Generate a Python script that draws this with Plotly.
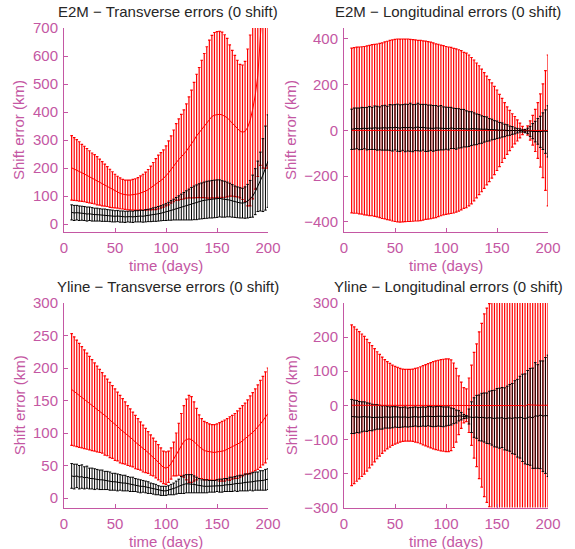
import plotly.graph_objects as go

# ---------------- data ----------------
DAYS = [7.5, 10, 12.5, 15, 17.5, 20, 22.5, 25, 27.5, 30,
        32.5, 35, 37.5, 40, 42.5, 45, 47.5, 50, 52.5, 55,
        57.5, 60, 62.5, 65, 67.5, 70, 72.5, 75, 77.5, 80,
        82.5, 85, 87.5, 90, 92.5, 95, 97.5, 100, 102.5, 105,
        107.5, 110, 112.5, 115, 117.5, 120, 122.5, 125, 127.5, 130,
        132.5, 135, 137.5, 140, 142.5, 145, 147.5, 150, 152.5, 155,
        157.5, 160, 162.5, 165, 167.5, 170, 172.5, 175, 177.5, 180,
        182.5, 185, 187.5, 190, 192.5, 195, 197.5, 200]

# E2M - Transverse
E2M_T_RED_MEAN = [201, 197, 193, 188, 183, 179, 174, 169, 164, 160,
                  155, 150, 144, 139, 134, 128, 123, 118, 114, 110,
                  107, 105, 104, 104, 105, 106, 108, 111, 114, 118,
                  123, 129, 136, 143, 150, 156, 163, 172, 183, 195,
                  208, 222, 231, 240, 249, 261, 274, 286, 300, 315,
                  327, 340, 352, 363, 375, 384, 389, 391, 392, 390,
                  386, 380, 370, 360, 350, 341, 332, 328, 331, 345,
                  370, 410, 460, 530, 630, 750, 900, 1080]
E2M_T_RED_STD = [115, 112, 109, 106, 102, 99, 96, 93, 90, 88,
                 86, 82, 79, 75, 71, 68, 64, 60, 57, 55,
                 53, 52, 53, 53, 55, 56, 58, 61, 64, 68,
                 72, 78, 84, 91, 96, 99, 102, 107, 114, 120,
                 128, 137, 145, 152, 159, 168, 180, 192, 206, 220,
                 232, 245, 257, 270, 282, 290, 295, 296, 296, 295,
                 290, 283, 270, 260, 252, 244, 238, 240, 250, 280,
                 305, 320, 335, 360, 420, 550, 700, 880]
E2M_T_BLK_MEAN = [42, 40, 41, 39, 39, 38, 36, 37, 35, 34,
                  34, 33, 32, 32, 31, 30, 29, 28, 29, 27,
                  27, 26, 27, 27, 26, 28, 28, 29, 28, 30,
                  31, 32, 34, 35, 37, 39, 41, 43, 46, 49,
                  52, 55, 58, 61, 64, 67, 70, 73, 76, 78,
                  81, 83, 85, 87, 88, 89, 90, 91, 92, 90,
                  89, 88, 86, 83, 80, 78, 76, 75, 77, 82,
                  90, 100, 116, 135, 152, 175, 200, 225]
E2M_T_BLK_STD = [27, 27, 26, 26, 25, 25, 25, 24, 24, 23,
                 23, 22, 22, 22, 21, 21, 21, 20, 20, 20,
                 20, 20, 19, 20, 20, 20, 20, 21, 21, 22,
                 22, 23, 24, 25, 26, 27, 28, 30, 32, 35,
                 37, 40, 43, 46, 49, 52, 55, 58, 60, 62,
                 63, 64, 65, 66, 66, 67, 67, 67, 66, 65,
                 64, 62, 60, 58, 56, 55, 54, 53, 56, 60,
                 66, 75, 82, 90, 105, 130, 150, 165]

# E2M - Longitudinal
E2M_L_RED_MEAN = [0, 0, 1, 0, 0, -1, 0, 0, 1, 0,
                  0, 0, -1, 0, 0, 1, 0, 0, 0, -1,
                  0, 0, 1, 0, 0, 0, -1, 0, 0, 1,
                  0, 0, 0, -1, 0, 0, 1, 0, 0, 0,
                  -1, 0, 0, 1, 0, 0, 0, -1, 0, 0,
                  1, 0, 0, 0, -1, 0, 0, 1, 0, 0,
                  0, -1, 0, 0, 1, 0, 0, 0, -1, 0,
                  0, 1, 0, 0, 0, -1, 0, 0]
E2M_L_RED_STD = [360, 362, 363, 365, 366, 368, 370, 372, 374, 376,
                 378, 381, 384, 387, 390, 393, 396, 398, 400, 400,
                 400, 399, 399, 398, 397, 396, 395, 394, 392, 390,
                 388, 386, 383, 380, 377, 373, 370, 367, 365, 363,
                 360, 357, 353, 348, 341, 338, 330, 320, 308, 295,
                 282, 268, 253, 238, 223, 208, 193, 176, 158, 140,
                 122, 104, 88, 73, 60, 46, 32, 18, 6, 20,
                 42, 65, 92, 122, 160, 205, 262, 330]
E2M_L_BLK_MEAN = [5, 8, 9, 7, 9, 10, 8, 11, 9, 12,
                  10, 9, 11, 12, 10, 13, 11, 14, 12, 10,
                  13, 11, 12, 14, 10, 13, 15, 12, 14, 11,
                  10, 12, 9, 11, 10, 12, 9, 10, 8, 11,
                  9, 7, 9, 8, 10, 7, 6, 8, 7, 5,
                  6, 4, 5, 6, 3, 4, 2, 3, 1, 2,
                  0, 1, -1, 0, -2, -1, 0, -2, -3, -2,
                  -4, -3, -5, -4, -6, -3, -5, -4]
E2M_L_BLK_STD = [88, 90, 89, 91, 92, 90, 93, 94, 92, 95,
                 96, 94, 97, 98, 96, 100, 101, 99, 103, 102,
                 100, 104, 102, 105, 103, 101, 104, 102, 100, 103,
                 101, 99, 100, 98, 96, 97, 94, 92, 93, 90,
                 88, 89, 86, 84, 82, 79, 76, 74, 70, 67,
                 64, 60, 56, 53, 49, 45, 41, 38, 34, 31,
                 27, 24, 20, 17, 13, 10, 7, 5, 7, 12,
                 22, 33, 45, 56, 68, 80, 95, 112]

# Yline - Transverse
YL_T_RED_MEAN = [167, 164, 161, 158, 155, 152, 149, 146, 143, 140,
                 137, 134, 131, 127, 124, 120, 117, 113, 110, 106,
                 103, 100, 96, 93, 90, 86, 83, 80, 76, 73,
                 70, 66, 63, 59, 55, 51, 47, 46, 48, 53,
                 60, 67, 75, 82, 87, 90, 91, 90, 87, 83,
                 79, 76, 73, 72, 71, 70, 70, 71, 71, 72,
                 73, 75, 76, 78, 80, 82, 85, 88, 91, 94,
                 97, 101, 105, 109, 114, 119, 124, 130]
YL_T_RED_STD = [86, 84, 82, 80, 78, 76, 74, 72, 70, 68,
                66, 64, 62, 61, 59, 58, 56, 55, 53, 52,
                50, 48, 46, 44, 42, 41, 39, 37, 36, 34,
                32, 31, 29, 28, 27, 26, 25, 25, 24, 24,
                26, 33, 40, 48, 55, 62, 67, 66, 61, 55,
                49, 46, 45, 44, 43, 43, 43, 43, 45, 46,
                47, 47, 49, 49, 50, 52, 53, 54, 55, 57,
                60, 61, 63, 65, 67, 68, 70, 70]
YL_T_BLK_MEAN = [34, 33, 34, 32, 33, 31, 32, 30, 30, 29,
                 29, 28, 28, 27, 27, 26, 25, 25, 24, 24,
                 23, 23, 22, 21, 21, 20, 19, 18, 18, 17,
                 16, 15, 14, 13, 12, 11, 11, 11, 12, 13,
                 14, 16, 18, 20, 21, 22, 22, 22, 21, 20,
                 19, 18, 18, 18, 18, 18, 18, 19, 19, 19,
                 20, 20, 21, 21, 22, 22, 23, 23, 24, 24,
                 25, 25, 26, 26, 27, 27, 28, 29]
YL_T_BLK_STD = [19, 19, 18, 18, 18, 17, 17, 16, 16, 16,
                15, 15, 15, 14, 14, 14, 13, 13, 13, 12,
                12, 12, 11, 11, 11, 10, 10, 10, 9, 9,
                9, 8, 8, 8, 7, 7, 7, 7, 7, 8,
                9, 10, 11, 13, 14, 14, 14, 14, 13, 12,
                11, 10, 10, 10, 9, 9, 9, 9, 10, 10,
                10, 10, 11, 11, 11, 12, 12, 12, 13, 13,
                13, 14, 14, 14, 15, 15, 16, 16]

# Yline - Longitudinal
YL_L_RED_MEAN = [0, 0, 0, 0, 0, 0, 0, 0, 0, 0,
                 0, 0, 0, 0, 0, 0, 0, 0, 0, 0,
                 0, 0, 0, 0, 0, 0, 0, 0, 0, 0,
                 0, 0, 0, 0, 0, 0, 0, 0, 0, 0,
                 0, 0, 0, 0, 0, 0, 0, 0, 0, 0,
                 0, 0, 0, 0, 0, 0, 0, 0, 0, 0,
                 0, 0, 0, 0, 0, 1, 0, -1, -3, 2,
                 1, 0, 1, 0, 0, 1, 0, 0]
YL_L_RED_STD = [236, 230, 223, 216, 209, 202, 193, 184, 175, 166,
                157, 149, 141, 134, 128, 123, 118, 114, 111, 108,
                106, 105, 105, 105, 106, 108, 110, 113, 116, 119,
                122, 125, 128, 130, 132, 134, 135, 136, 136, 133,
                124, 108, 86, 68, 52, 48, 80, 118, 155, 180,
                215, 240, 268, 285, 298, 330, 360, 390, 410, 430,
                450, 470, 490, 505, 520, 535, 550, 560, 570, 580,
                590, 600, 610, 620, 630, 640, 650, 660]
YL_L_BLK_MEAN = [-33, -34, -33, -35, -34, -33, -35, -34, -36, -35,
                 -34, -35, -36, -34, -35, -36, -35, -34, -35, -36,
                 -35, -34, -36, -35, -34, -33, -35, -34, -33, -34,
                 -32, -33, -34, -33, -32, -33, -34, -33, -32, -33,
                 -32, -33, -31, -32, -33, -34, -33, -35, -36, -34,
                 -37, -35, -36, -38, -36, -37, -39, -37, -38, -36,
                 -40, -38, -37, -39, -36, -38, -35, -37, -40, -36,
                 -34, -38, -30, -33, -28, -32, -30, -31]
YL_L_BLK_STD = [50, 49, 47, 46, 44, 43, 42, 40, 39, 37,
                36, 35, 34, 33, 32, 31, 31, 30, 30, 29,
                29, 29, 28, 28, 28, 28, 28, 28, 28, 28,
                28, 29, 29, 29, 29, 29, 29, 28, 27, 25,
                22, 19, 15, 11, 6, 4, 22, 45, 58, 63,
                67, 70, 72, 74, 77, 80, 83, 86, 88, 88,
                91, 94, 98, 103, 108, 114, 120, 128, 132, 138,
                142, 147, 155, 152, 158, 162, 170, 178]

TITLES = ["E2M \u2212 Transverse errors (0 shift)",
          "E2M \u2212 Longitudinal errors (0 shift)",
          "Yline \u2212 Transverse errors (0 shift)",
          "Yline \u2212 Longitudinal errors (0 shift)"]
X_LABEL = "time (days)"
Y_LABEL = "Shift error (km)"
X_TICKS = [0, 50, 100, 150, 200]
Y_TICKS = [[0, 100, 200, 300, 400, 500, 600, 700],
           [-400, -200, 0, 200, 400],
           [0, 50, 100, 150, 200, 250, 300],
           [-300, -200, -100, 0, 100, 200, 300]]

# ---------------- styling / layout ----------------
W, H = 575, 549
RED = "#ff0000"
BLK = "#000000"
AXC = "#c457a3"
TXT = "#262626"
FONT = "Liberation Sans, Arial, sans-serif"

def fx(px):
    return px / W

def fy(py):
    return (H - py) / H

# panel boxes in pixels: (left, right, top, bottom), y ranges
BOXES = [(64, 268, 28, 232), (344, 548, 28, 232),
         (64, 268, 303, 507.5), (344, 548, 303, 507.5)]
Y_RANGES = [[-28, 700], [-444, 448], [-14.6, 300], [-300, 300]]

PANELS = [(E2M_T_RED_MEAN, E2M_T_RED_STD, E2M_T_BLK_MEAN, E2M_T_BLK_STD),
          (E2M_L_RED_MEAN, E2M_L_RED_STD, E2M_L_BLK_MEAN, E2M_L_BLK_STD),
          (YL_T_RED_MEAN, YL_T_RED_STD, YL_T_BLK_MEAN, YL_T_BLK_STD),
          (YL_L_RED_MEAN, YL_L_RED_STD, YL_L_BLK_MEAN, YL_L_BLK_STD)]

fig = go.Figure()
layout = dict(width=W, height=H, margin=dict(l=0, r=0, t=0, b=0, autoexpand=False),
              paper_bgcolor="white", plot_bgcolor="white",
              showlegend=False, font=dict(family=FONT, size=15, color=AXC))
annotations = []

for k, (rm, rs, bm, bs) in enumerate(PANELS):
    n = "" if k == 0 else str(k + 1)
    xa, ya = "x" + n, "y" + n
    common = dict(xaxis=xa, yaxis=ya, showlegend=False, hoverinfo="skip")
    fig.add_trace(go.Scatter(x=DAYS, y=rm, mode="markers",
                             marker=dict(size=1, color="rgba(0,0,0,0)"),
                             error_y=dict(type="data", array=rs, symmetric=True,
                                          color=RED, thickness=1.2, width=1.3),
                             **common))
    fig.add_trace(go.Scatter(x=DAYS, y=bm, mode="markers",
                             marker=dict(size=1, color="rgba(0,0,0,0)"),
                             error_y=dict(type="data", array=bs, symmetric=True,
                                          color=BLK, thickness=1.0, width=1.3),
                             **common))
    fig.add_trace(go.Scatter(x=DAYS, y=rm, mode="lines",
                             line=dict(color=RED, width=1), **common))
    fig.add_trace(go.Scatter(x=DAYS, y=bm, mode="lines",
                             line=dict(color=BLK, width=1), **common))

    l, r, t, b = BOXES[k]
    axis_common = dict(showgrid=False, zeroline=False, showline=True,
                       linecolor=AXC, linewidth=1, ticks="inside", ticklen=4,
                       tickcolor=AXC, tickwidth=1, automargin=False,
                       tickfont=dict(family=FONT, size=15, color=AXC),
                       mirror=False)
    layout["xaxis" + n] = dict(domain=[fx(l), fx(r)], range=[0, 200],
                               tickvals=X_TICKS, anchor=ya,
                               ticklabelstandoff=2, **axis_common)
    layout["yaxis" + n] = dict(domain=[fy(b), fy(t)], range=Y_RANGES[k],
                               tickvals=Y_TICKS[k], anchor=xa,
                               ticklabelstandoff=2, **axis_common)

    cx = (l + r) / 2
    annotations.append(dict(text=TITLES[k], x=fx(cx + 2), y=fy(t - 16.5),
                            xref="paper", yref="paper", showarrow=False,
                            xanchor="center", yanchor="middle",
                            font=dict(family=FONT, size=15, color=TXT)))
    annotations.append(dict(text=X_LABEL, x=fx(cx), y=fy(b + 33.5),
                            xref="paper", yref="paper", showarrow=False,
                            xanchor="center", yanchor="middle",
                            font=dict(family=FONT, size=15, color=AXC)))
    ylx = 19 if l < 200 else 291
    annotations.append(dict(text=Y_LABEL, x=fx(ylx), y=fy((t + b) / 2),
                            xref="paper", yref="paper", showarrow=False,
                            textangle=-90, xanchor="center", yanchor="middle",
                            font=dict(family=FONT, size=15, color=AXC)))

layout["annotations"] = annotations
fig.update_layout(**layout)
fig.write_html("out.html",
               config={"displayModeBar": False},
               post_script="document.body.style.margin='0';"
                           "document.body.style.overflow='hidden';")
